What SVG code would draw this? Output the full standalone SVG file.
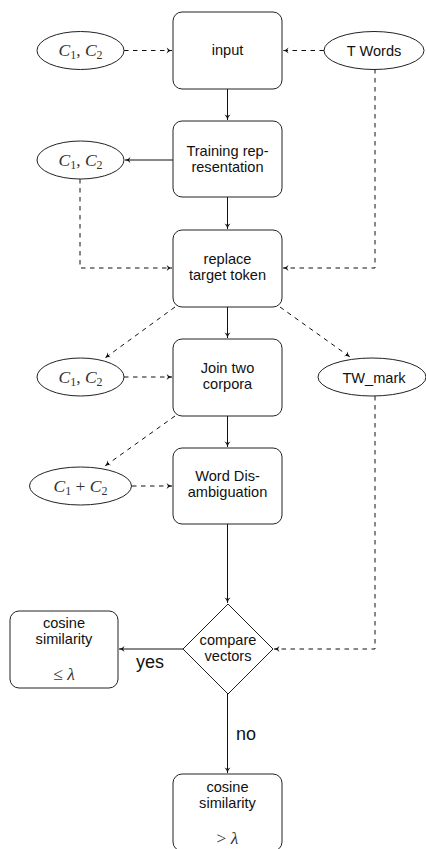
<svg xmlns="http://www.w3.org/2000/svg" width="426" height="849" viewBox="0 0 426 849">
<style>
.box{fill:#fff;stroke:#222;stroke-width:1}
.t{font-family:"Liberation Sans",Arial,sans-serif;font-size:14.6px;fill:#111;text-anchor:middle}
.m{font-family:"Liberation Serif","Times New Roman",serif;font-size:17.5px;font-style:italic;fill:#333;text-anchor:middle}
.mr{font-style:normal}
.big{font-family:"Liberation Sans",Arial,sans-serif;font-size:18px;fill:#111;text-anchor:middle}
.c{fill:none;stroke:#111;stroke-width:1;marker-end:url(#ah)}
.d{stroke-dasharray:4.5 4.5}
</style>
<defs>
<marker id="ah" markerUnits="userSpaceOnUse" markerWidth="8" markerHeight="8" viewBox="-6 -4 8 8" refX="0" refY="0" orient="auto">
<path d="M-5.5,-3 Q-3,-0.5 0,0 Q-3,0.5 -5.5,3 L-4,0 Z" fill="#111"/>
</marker>
</defs>
<g id="connectors">
<path class="c d" d="M124,50.5 H172"/>
<path class="c d" d="M324,50.5 H283"/>
<path class="c" d="M227.5,89 V120"/>
<path class="c" d="M173,160 H125"/>
<path class="c d" d="M80,179 V268 H172"/>
<path class="c d" d="M375,69 V268 H283"/>
<path class="c" d="M227.5,197 V229"/>
<path class="c d" d="M175,307 L105,358"/>
<path class="c d" d="M280,307 L350,357"/>
<path class="c" d="M227.5,307 V338"/>
<path class="c d" d="M124,377 H172"/>
<path class="c d" d="M175,416 L105,466"/>
<path class="c" d="M227.5,416 V447"/>
<path class="c d" d="M132,486 H172"/>
<path class="c" d="M227.5,524 V603"/>
<path class="c d" d="M375,396 V649 H274"/>
<path class="c" d="M183,649 H119"/>
<path class="c" d="M227.5,694 V773"/>
</g>
<g id="c12a"><ellipse class="box" cx="80.5" cy="50.5" rx="43.5" ry="19"/><text class="m" x="80.5" y="56">C<tspan font-size="12" class="mr" dy="3">1</tspan><tspan class="mr" dy="-3">, </tspan>C<tspan font-size="12" class="mr" dy="3">2</tspan></text></g>
<g id="input"><rect class="box" x="173" y="12" width="109" height="77" rx="9"/><text class="t" x="227.5" y="55">input</text></g>
<g id="twords"><ellipse class="box" cx="374" cy="50.5" rx="50" ry="19"/><text class="t" x="374" y="56">T Words</text></g>
<g id="training"><rect class="box" x="173" y="121" width="109" height="76" rx="9"/><text class="t" x="227.5" y="156">Training rep-</text><text class="t" x="227.5" y="172">resentation</text></g>
<g id="c12b"><ellipse class="box" cx="80.5" cy="160" rx="43.5" ry="19"/><text class="m" x="80.5" y="165.5">C<tspan font-size="12" class="mr" dy="3">1</tspan><tspan class="mr" dy="-3">, </tspan>C<tspan font-size="12" class="mr" dy="3">2</tspan></text></g>
<g id="replace"><rect class="box" x="173" y="230" width="109" height="77" rx="9"/><text class="t" x="227.5" y="264">replace</text><text class="t" x="227.5" y="280">target token</text></g>
<g id="join"><rect class="box" x="173" y="339" width="109" height="77" rx="9"/><text class="t" x="227.5" y="373">Join two</text><text class="t" x="227.5" y="389">corpora</text></g>
<g id="c12c"><ellipse class="box" cx="80.5" cy="377" rx="43.5" ry="19"/><text class="m" x="80.5" y="382.5">C<tspan font-size="12" class="mr" dy="3">1</tspan><tspan class="mr" dy="-3">, </tspan>C<tspan font-size="12" class="mr" dy="3">2</tspan></text></g>
<g id="twmark"><ellipse class="box" cx="372" cy="377" rx="54" ry="19"/><text class="t" x="374" y="382.5">TW_mark</text></g>
<g id="c1pc2"><ellipse class="box" cx="80.5" cy="486" rx="51" ry="19"/><text class="m" x="80.5" y="491.5">C<tspan font-size="12" class="mr" dy="3">1</tspan><tspan class="mr" dy="-3"> + </tspan>C<tspan font-size="12" class="mr" dy="3">2</tspan></text></g>
<g id="wsd"><rect class="box" x="173" y="448" width="109" height="76" rx="9"/><text class="t" x="227.5" y="481">Word Dis-</text><text class="t" x="227.5" y="497">ambiguation</text></g>
<g id="compare"><polygon class="box" points="228,604 273,649 228,694 183,649"/><text class="t" x="228" y="645">compare</text><text class="t" x="228" y="661">vectors</text></g>
<g id="cosle"><rect class="box" x="10" y="611" width="108" height="77" rx="9"/><text class="t" x="64" y="628">cosine</text><text class="t" x="64" y="644">similarity</text><text class="m" x="64" y="680"><tspan class="mr">≤ </tspan>λ</text></g>
<g id="cosgt"><rect class="box" x="173" y="774" width="109" height="77" rx="9"/><text class="t" x="227.5" y="792">cosine</text><text class="t" x="227.5" y="808">similarity</text><text class="m" x="227.5" y="844"><tspan class="mr">&gt; </tspan>λ</text></g>
<g id="labels"><text class="big" x="150" y="668">yes</text><text class="big" x="246" y="740">no</text></g>
</svg>
